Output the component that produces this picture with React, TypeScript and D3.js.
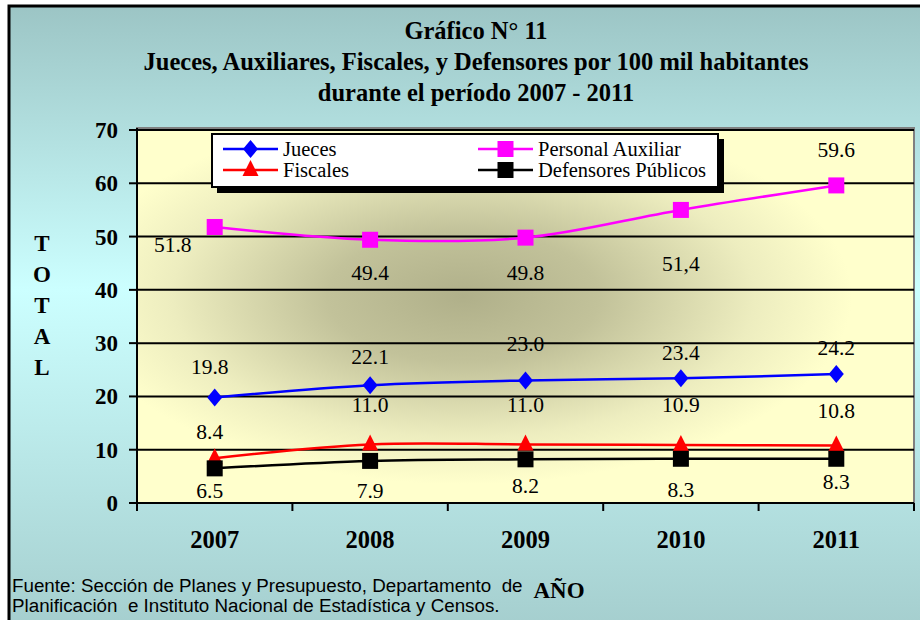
import React from "react";
import * as d3 from "d3";

const years = ["2007", "2008", "2009", "2010", "2011"];
const jueces = [19.8, 22.1, 23.0, 23.4, 24.2];
const auxiliar = [51.8, 49.4, 49.8, 55.0, 59.6];
const auxiliarLabels = ["51.8", "49.4", "49.8", "51,4", "59.6"];
const fiscales = [8.4, 11.0, 11.0, 10.9, 10.8];
const defensores = [6.5, 7.9, 8.2, 8.3, 8.3];
const yTicks = [0, 10, 20, 30, 40, 50, 60, 70];

const W = 920, H = 620;
const PL = 137, PR = 914, PT = 130, PB = 503;
const SERIF = "'Liberation Serif', 'Times New Roman', serif";

type Series = {
  name: string;
  values: number[];
  labels: string[];
  color: string;
  marker: "diamond" | "square" | "triangle";
  labelOffsets: [number, number][];
};

const series: Series[] = [
  {
    name: "Jueces", values: jueces, labels: jueces.map((v) => v.toFixed(1)), color: "#0000ff", marker: "diamond",
    labelOffsets: [[-5, -30], [0, -28], [0, -36], [0, -25], [0, -26]],
  },
  {
    name: "Personal Auxiliar", values: auxiliar, labels: auxiliarLabels, color: "#ff00ff", marker: "square",
    labelOffsets: [[-42, 18], [0, 33], [0, 35], [0, 54], [0, -35]],
  },
  {
    name: "Fiscales", values: fiscales, labels: fiscales.map((v) => v.toFixed(1)), color: "#ff0000", marker: "triangle",
    labelOffsets: [[-5, -26], [0, -39], [0, -39], [0, -40], [0, -34]],
  },
  {
    name: "Defensores Públicos", values: defensores, labels: defensores.map((v) => v.toFixed(1)), color: "#000000", marker: "square",
    labelOffsets: [[-5, 23], [0, 30], [0, 27], [0, 31], [0, 23]],
  },
];

function Marker({ type, x, y, color }: { type: string; x: number; y: number; color: string }) {
  if (type === "diamond") {
    const p = d3.path();
    p.moveTo(x, y - 9); p.lineTo(x + 7.5, y); p.lineTo(x, y + 9); p.lineTo(x - 7.5, y); p.closePath();
    return <path d={p.toString()} fill={color} />;
  }
  if (type === "triangle") {
    const p = d3.path();
    p.moveTo(x, y - 10); p.lineTo(x + 8, y + 6); p.lineTo(x - 8, y + 6); p.closePath();
    return <path d={p.toString()} fill={color} />;
  }
  return <rect x={x - 8} y={y - 8} width={16} height={16} fill={color} />;
}

export default function App() {
  const x = d3.scaleBand<string>().domain(years).range([PL, PR]).padding(0);
  const cx = (yr: string) => (x(yr) as number) + x.bandwidth() / 2;
  const y = d3.scaleLinear().domain([0, 70]).range([PB, PT]);
  const line = d3.line<number>()
    .x((_, i) => cx(years[i]))
    .y((d) => y(d))
    .curve(d3.curveCardinal.tension(0));

  const bounds = [...years.map((yr) => x(yr) as number), PR];

  const legendItems = [
    { s: series[0], lx: 223, ly: 149 },
    { s: series[1], lx: 478, ly: 149 },
    { s: series[2], lx: 223, ly: 170 },
    { s: series[3], lx: 478, ly: 170 },
  ];

  return (
    <div style={{ position: "absolute", left: 0, top: 0 }}>
      <svg width={W} height={H} style={{ display: "block" }}>
        <defs>
          <linearGradient id="bg" x1="0" y1="0" x2="0" y2="1">
            <stop offset="0" stopColor="#9cc5c5" />
            <stop offset="0.45" stopColor="#ccffff" />
            <stop offset="1" stopColor="#a4cdcd" />
          </linearGradient>
          <radialGradient id="plotbg" cx="0.42" cy="0.45" r="0.5" fx="0.42" fy="0.45">
            <stop offset="0" stopColor="#b0b08a" />
            <stop offset="0.35" stopColor="#c2c29a" />
            <stop offset="0.75" stopColor="#ededbf" />
            <stop offset="1" stopColor="#ffffcc" />
          </radialGradient>
        </defs>
        <rect x={0} y={0} width={W} height={H} fill="#ffffff" />
        <rect x={9} y={6} width={W + 10} height={H + 10} fill="url(#bg)" stroke="#000" strokeWidth={3} />

        {/* title */}
        <g fontFamily={SERIF} fontWeight="bold" fontSize={24.5} textAnchor="middle" fill="#000">
          <text x={476} y={39}>Gráfico N° 11</text>
          <text x={476} y={70}>Jueces, Auxiliares, Fiscales, y Defensores por 100 mil habitantes</text>
          <text x={476} y={101}>durante el período 2007 - 2011</text>
        </g>

        {/* plot area */}
        <rect x={PL} y={PT - 2} width={PR - PL} height={PB - PT + 2} fill="url(#plotbg)" stroke="#808080" strokeWidth={2} />

        {/* gridlines */}
        {yTicks.filter((t) => t > 0).map((t) => (
          <line key={t} x1={PL} x2={PR} y1={y(t)} y2={y(t)} stroke="#000" strokeWidth={2} />
        ))}

        {/* axes */}
        <line x1={PL} x2={PL} y1={PT - 2} y2={PB} stroke="#000" strokeWidth={2} />
        <line x1={PL} x2={PR} y1={PB} y2={PB} stroke="#000" strokeWidth={2} />
        {yTicks.map((t) => (
          <g key={t}>
            <line x1={PL - 8} x2={PL} y1={y(t)} y2={y(t)} stroke="#000" strokeWidth={2} />
            <text x={118} y={y(t) + 8} textAnchor="end" fontFamily={SERIF} fontWeight="bold" fontSize={23}>{t}</text>
          </g>
        ))}
        {bounds.map((b, i) => (
          <line key={i} x1={b} x2={b} y1={PB} y2={PB + 8} stroke="#000" strokeWidth={2} />
        ))}
        {years.map((yr) => (
          <text key={yr} x={cx(yr)} y={548} textAnchor="middle" fontFamily={SERIF} fontWeight="bold" fontSize={24.5}>{yr}</text>
        ))}

        {/* y title */}
        <g fontFamily={SERIF} fontWeight="bold" fontSize={23} textAnchor="middle">
          {["T", "O", "T", "A", "L"].map((c, i) => (
            <text key={i} x={42} y={251 + i * 31}>{c}</text>
          ))}
        </g>
        <text x={559} y={598} textAnchor="middle" fontFamily={SERIF} fontWeight="bold" fontSize={23}>AÑO</text>

        {/* footnote */}
        <g fontFamily="'Liberation Sans', Arial, sans-serif" fontSize={18.8} fill="#000">
          <text x={12} y={592}>{"Fuente: Sección de Planes y Presupuesto, Departamento\u00a0 de"}</text>
          <text x={12} y={612}>{"Planificación\u00a0 e Instituto Nacional de Estadística y Censos."}</text>
        </g>

        {/* series */}
        {series.map((s) => (
          <g key={s.name}>
            <path d={line(s.values) as string} fill="none" stroke={s.color} strokeWidth={2.5} />
            {s.values.map((v, i) => (
              <Marker key={i} type={s.marker} x={cx(years[i])} y={y(v)} color={s.color} />
            ))}
            {s.values.map((v, i) => (
              <text key={"l" + i} x={cx(years[i]) + s.labelOffsets[i][0]} y={y(v) + s.labelOffsets[i][1] + 7}
                textAnchor="middle" fontFamily={SERIF} fontSize={21.5} fill="#000">{s.labels[i]}</text>
            ))}
          </g>
        ))}

        {/* legend */}
        <rect x={217} y={139} width={507} height={54} fill="#000" />
        <rect x={212} y={134} width={506} height={53} fill="#fff" stroke="#000" strokeWidth={2} />
        {legendItems.map(({ s, lx, ly }) => (
          <g key={s.name}>
            <line x1={lx} x2={lx + 55} y1={ly} y2={ly} stroke={s.color} strokeWidth={2.5} />
            <Marker type={s.marker} x={lx + 27.5} y={ly} color={s.color} />
            <text x={lx + 60} y={ly + 7} fontFamily={SERIF} fontSize={20.5} fill="#000">{s.name}</text>
          </g>
        ))}
      </svg>
    </div>
  );
}
